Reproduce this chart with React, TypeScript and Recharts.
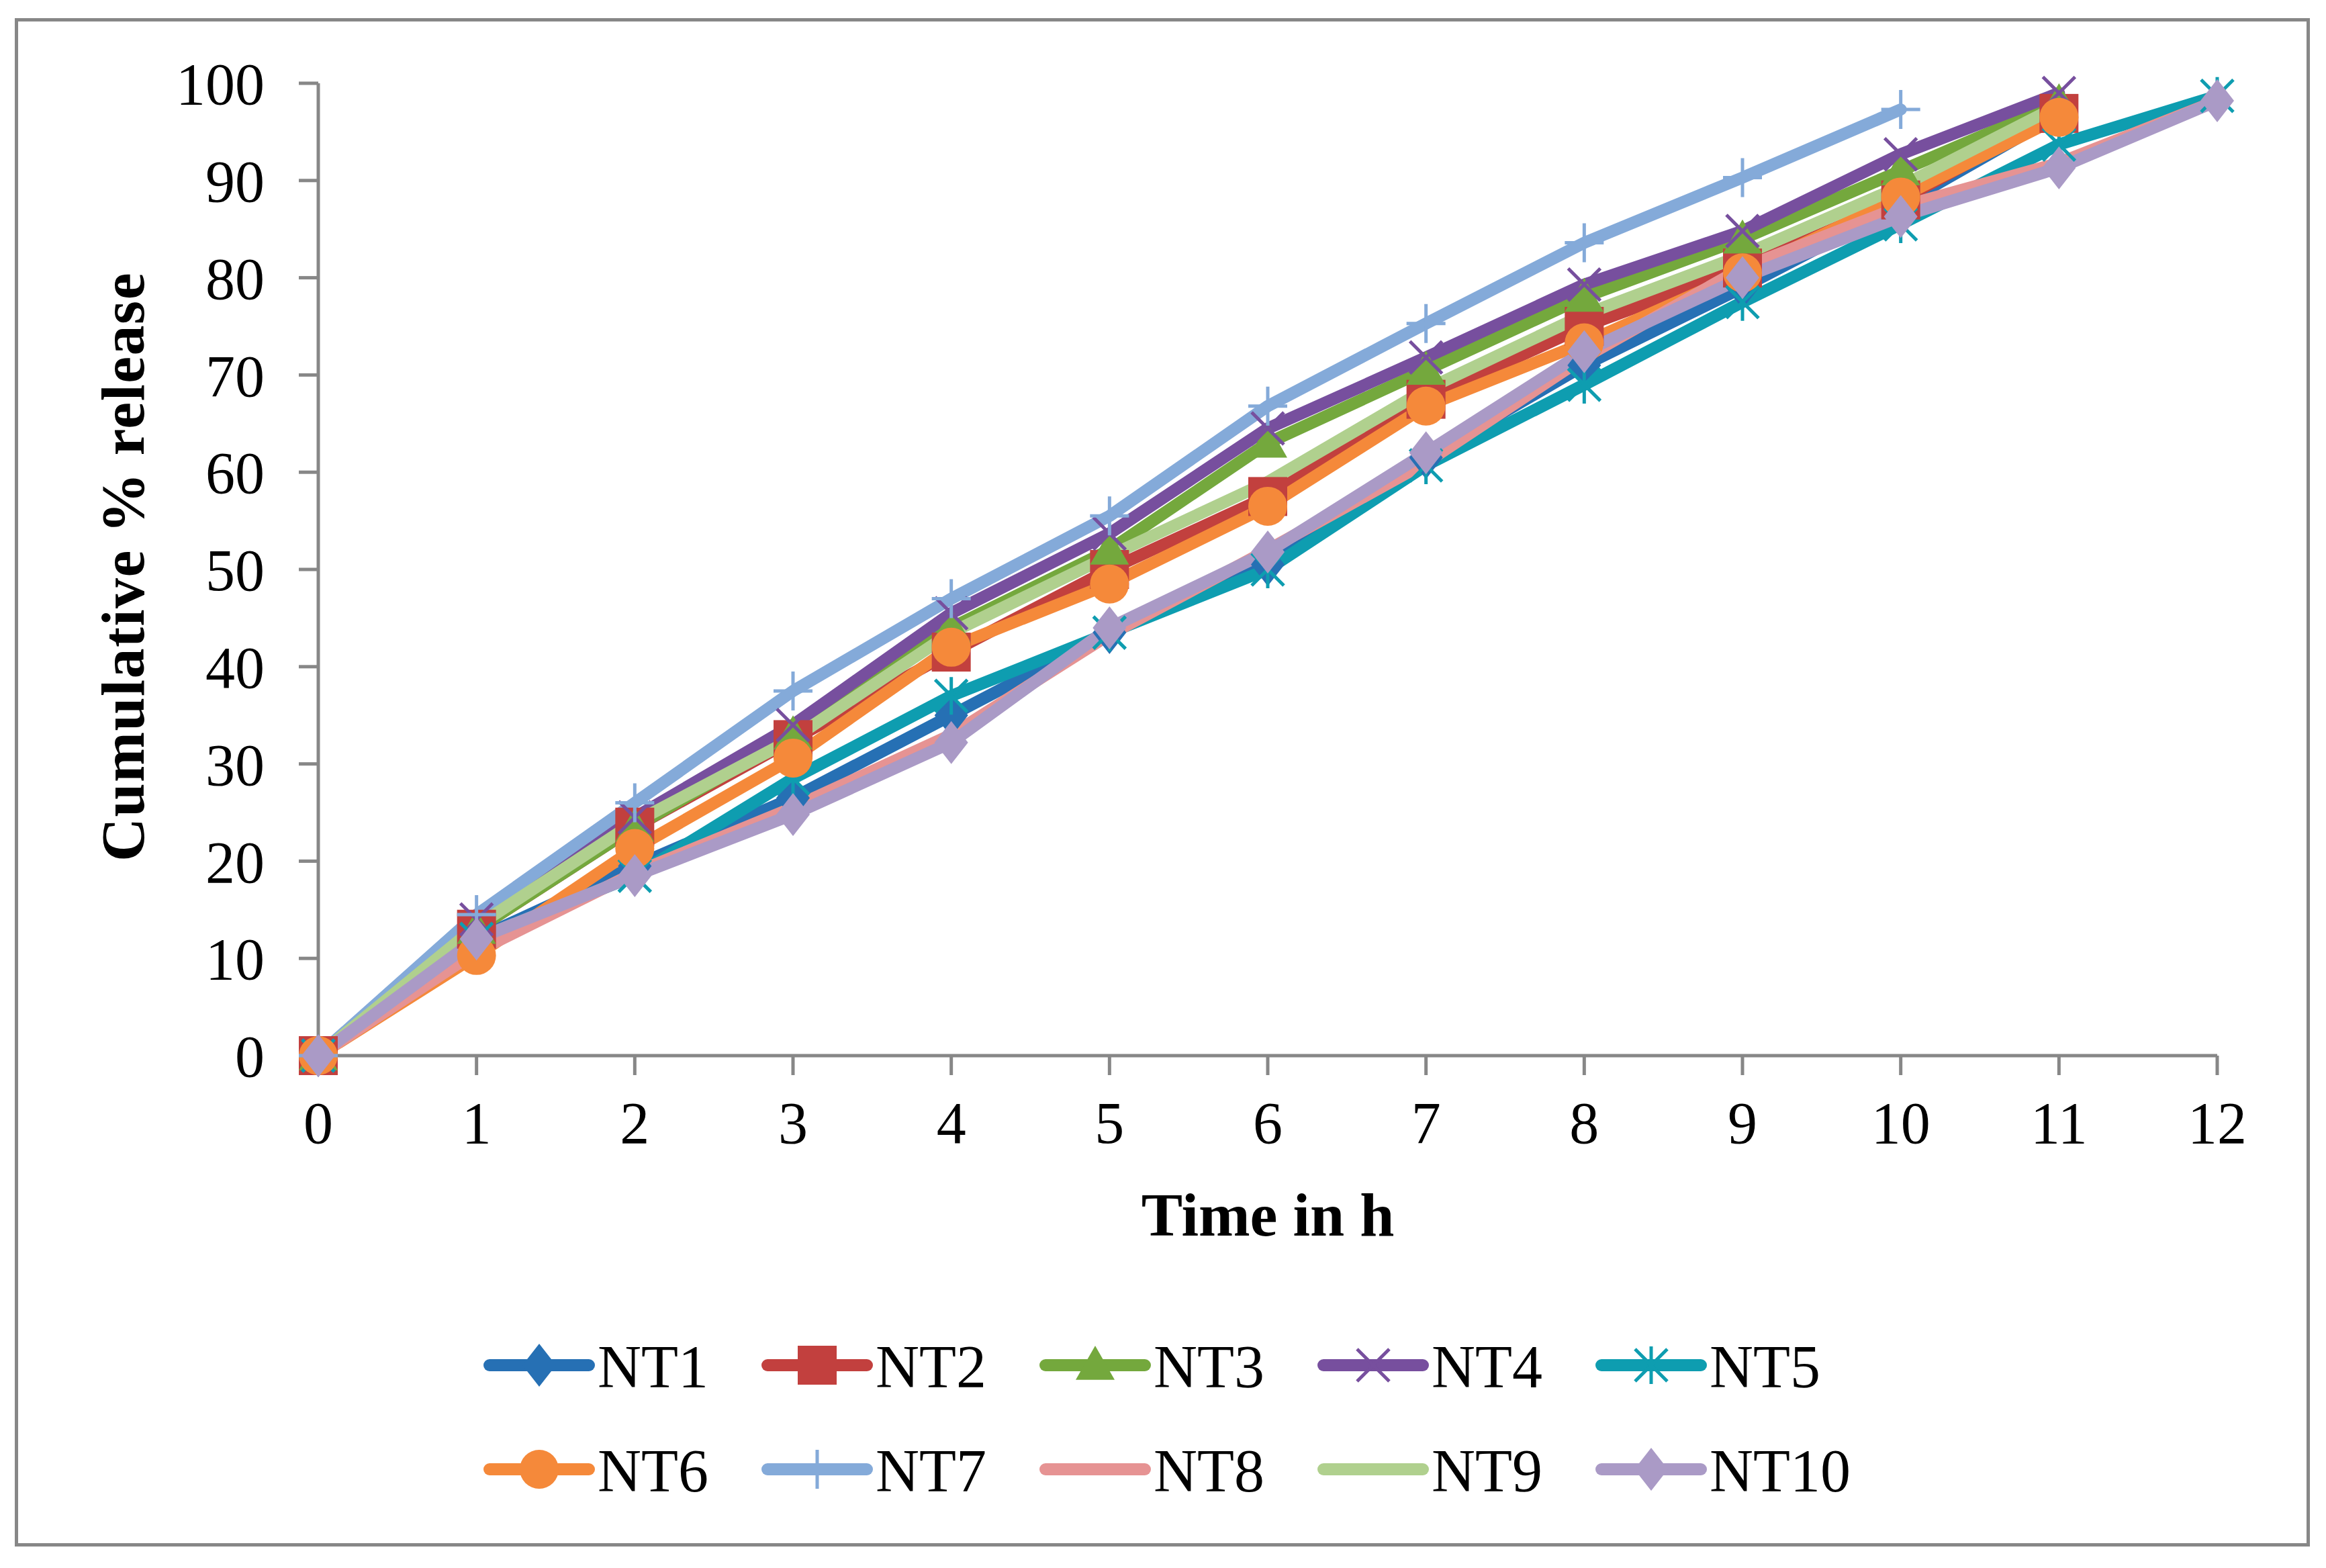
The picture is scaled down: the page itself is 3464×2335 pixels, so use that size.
import React from "react";
import { LineChart, Line, XAxis, YAxis, Legend, Label } from "recharts";

// time points (h)
const hours = [0, 1, 2, 3, 4, 5, 6, 7, 8, 9, 10, 11, 12];

// cumulative % release per formulation
const nt1 = [0, 12, 19.5, 26.5, 35, 43.5, 50.5, 61.5, 71, 79, 87.5, 96.8];
const nt2 = [0, 13, 23.5, 32.5, 41.5, 50, 57.5, 67.5, 75, 81, 88, 96.9];
const nt3 = [0, 13, 23.5, 33, 44, 52, 63, 70.5, 78, 84, 91, 98];
const nt4 = [0, 14, 24.5, 34, 45.5, 53.7, 64.5, 71.8, 79.3, 84.8, 92.7, 99];
const nt5 = [0, 12, 18.5, 28.5, 37, 43.5, 50, 60.7, 69, 77.5, 85.5, 93.7, 98.7];
const nt6 = [0, 10.3, 21.3, 30.6, 42, 48.5, 56.5, 66.8, 73.3, 80.5, 88.3, 96.5];
const nt7 = [0, 14.5, 26, 37.5, 47, 55.5, 66.8, 75.3, 83.6, 90.3, 97.3];
const nt8 = [0, 10.7, 18.8, 25.5, 33, 43.3, 52, 61, 71.8, 81, 87.3, 91.8, 98.2];
const nt9 = [0, 13.3, 24, 32.6, 43.5, 51.4, 59, 68.5, 76.2, 82.3, 89.4, 97.7];
const nt10 = [0, 12, 18.5, 24.8, 32.2, 44, 51.8, 62, 72.4, 80, 86.3, 91.3, 98.2];

const yTicks = [0, 10, 20, 30, 40, 50, 60, 70, 80, 90, 100];
const seriesNames = ["NT1", "NT2", "NT3", "NT4", "NT5", "NT6", "NT7", "NT8", "NT9", "NT10"];
const seriesValues = [nt1, nt2, nt3, nt4, nt5, nt6, nt7, nt8, nt9, nt10];

type Shape = "diamond" | "square" | "triangle" | "x" | "star" | "circle" | "plus" | "none";

const styles: { color: string; shape: Shape }[] = [
  { color: "#2670B4", shape: "diamond" },
  { color: "#C2403E", shape: "square" },
  { color: "#74A83D", shape: "triangle" },
  { color: "#774F9E", shape: "x" },
  { color: "#0E9DB0", shape: "star" },
  { color: "#F5893A", shape: "circle" },
  { color: "#84AAD9", shape: "plus" },
  { color: "#E69393", shape: "none" },
  { color: "#B0D08E", shape: "none" },
  { color: "#AA9AC6", shape: "diamond" },
];

const rows = hours.map((t, i) => {
  const r: Record<string, number | null> = { t };
  seriesNames.forEach((name, k) => {
    const v = seriesValues[k][i];
    r[name] = v === undefined ? null : v;
  });
  return r;
});

const FONT = '"Liberation Serif", "Times New Roman", serif';
const AXIS = "#878787";

function Marker({ shape, x, y, color }: { shape: Shape; x: number; y: number; color: string }) {
  switch (shape) {
    case "diamond": {
      const w = 25;
      const h = 32;
      return <polygon points={`${x},${y - h} ${x + w},${y} ${x},${y + h} ${x - w},${y}`} fill={color} />;
    }
    case "square": {
      const s = 29;
      return <rect x={x - s} y={y - s} width={2 * s} height={2 * s} fill={color} />;
    }
    case "triangle": {
      const s = 29;
      return <polygon points={`${x},${y - s} ${x + s},${y + s * 0.75} ${x - s},${y + s * 0.75}`} fill={color} />;
    }
    case "circle":
      return <circle cx={x} cy={y} r={29} fill={color} />;
    case "x": {
      const s = 24;
      return (
        <path d={`M${x - s},${y - s}L${x + s},${y + s}M${x + s},${y - s}L${x - s},${y + s}`} stroke={color} strokeWidth={5} />
      );
    }
    case "star": {
      const s = 24;
      return (
        <path
          d={`M${x - s},${y - s}L${x + s},${y + s}M${x + s},${y - s}L${x - s},${y + s}M${x},${y - s - 4}L${x},${y + s + 4}`}
          stroke={color}
          strokeWidth={5}
        />
      );
    }
    case "plus": {
      const s = 29;
      return <path d={`M${x - s},${y}L${x + s},${y}M${x},${y - s}L${x},${y + s}`} stroke={color} strokeWidth={5} />;
    }
    default:
      return null;
  }
}

function makeDot(shape: Shape, color: string) {
  return (p: any) => {
    if (p.cx == null || p.cy == null || p.value == null || (Array.isArray(p.value) && p.value[1] == null)) {
      return <g key={`d-${p.index}`} />;
    }
    return (
      <g key={`d-${p.index}`}>
        <Marker shape={shape} x={p.cx} y={p.cy} color={color} />
      </g>
    );
  };
}

function LegendBlock() {
  const top = 1900;
  return (
    <svg width={3464} height={400} style={{ display: "block" }}>
      {seriesNames.map((name, i) => {
        const col = i % 5;
        const row = Math.floor(i / 5);
        const x0 = 720 + col * 414;
        const cy = (row === 0 ? 2033 : 2188) - top;
        const st = styles[i];
        return (
          <g key={name}>
            <line x1={x0 + 9} y1={cy} x2={x0 + 157} y2={cy} stroke={st.color} strokeWidth={18} strokeLinecap="round" />
            <Marker shape={st.shape} x={x0 + 83} y={cy} color={st.color} />
            <text x={x0 + 170} y={cy + 33} fontFamily={FONT} fontSize={90} fill="#000">
              {name}
            </text>
          </g>
        );
      })}
    </svg>
  );
}

export default function App() {
  return (
    <div style={{ position: "absolute", left: 0, top: 0, width: 3464, height: 2335, background: "#fff" }}>
      <div
        style={{
          position: "absolute",
          left: 22,
          top: 27,
          width: 3418,
          height: 2276,
          border: `5px solid ${AXIS}`,
          boxSizing: "border-box",
        }}
      />
      <div style={{ position: "absolute", left: 0, top: 0 }}>
        <LineChart width={3464} height={2335} data={rows} margin={{ top: 124, right: 162, left: 274, bottom: 663 }}>
          <XAxis
            dataKey="t"
            type="number"
            domain={[0, 12]}
            ticks={hours}
            interval={0}
            height={100}
            tickSize={29}
            tickMargin={39}
            axisLine={{ stroke: AXIS, strokeWidth: 5 }}
            tickLine={{ stroke: AXIS, strokeWidth: 5 }}
            tick={{ fontFamily: FONT, fontSize: 88, fill: "#000" }}
          >
            <Label
              content={(props: any) => {
                const vb = props.viewBox;
                return (
                  <text
                    x={vb.x + vb.width / 2}
                    y={vb.y + 268}
                    textAnchor="middle"
                    fontFamily={FONT}
                    fontWeight="bold"
                    fontSize={92}
                    fill="#000"
                  >
                    Time in h
                  </text>
                );
              }}
            />
          </XAxis>
          <YAxis
            type="number"
            domain={[0, 100]}
            ticks={yTicks}
            interval={0}
            width={200}
            tickSize={29}
            tickMargin={51}
            axisLine={{ stroke: AXIS, strokeWidth: 5 }}
            tickLine={{ stroke: AXIS, strokeWidth: 5 }}
            tick={{ fontFamily: FONT, fontSize: 88, fill: "#000" }}
          >
            <Label
              content={(props: any) => {
                const vb = props.viewBox;
                const x = vb.x - 60;
                const y = vb.y + vb.height / 2 - 4;
                return (
                  <text
                    x={x}
                    y={y}
                    transform={`rotate(-90, ${x}, ${y})`}
                    textAnchor="middle"
                    fontFamily={FONT}
                    fontWeight="bold"
                    fontSize={90}
                    letterSpacing={1.5}
                    fill="#000"
                  >
                    Cumulative % release
                  </text>
                );
              }}
            />
          </YAxis>
          <Legend
            layout="horizontal"
            verticalAlign="middle"
            align="center"
            wrapperStyle={{ position: "absolute", left: 0, top: 1900, width: 3464, height: 400 }}
            content={() => <LegendBlock />}
          />
          {seriesNames.map((name, i) => (
            <Line
              key={name}
              dataKey={name}
              type="linear"
              stroke={styles[i].color}
              strokeWidth={18}
              strokeLinejoin="round"
              strokeLinecap="round"
              dot={styles[i].shape === "none" ? false : makeDot(styles[i].shape, styles[i].color)}
              activeDot={false}
              isAnimationActive={false}
            />
          ))}
        </LineChart>
      </div>
    </div>
  );
}
